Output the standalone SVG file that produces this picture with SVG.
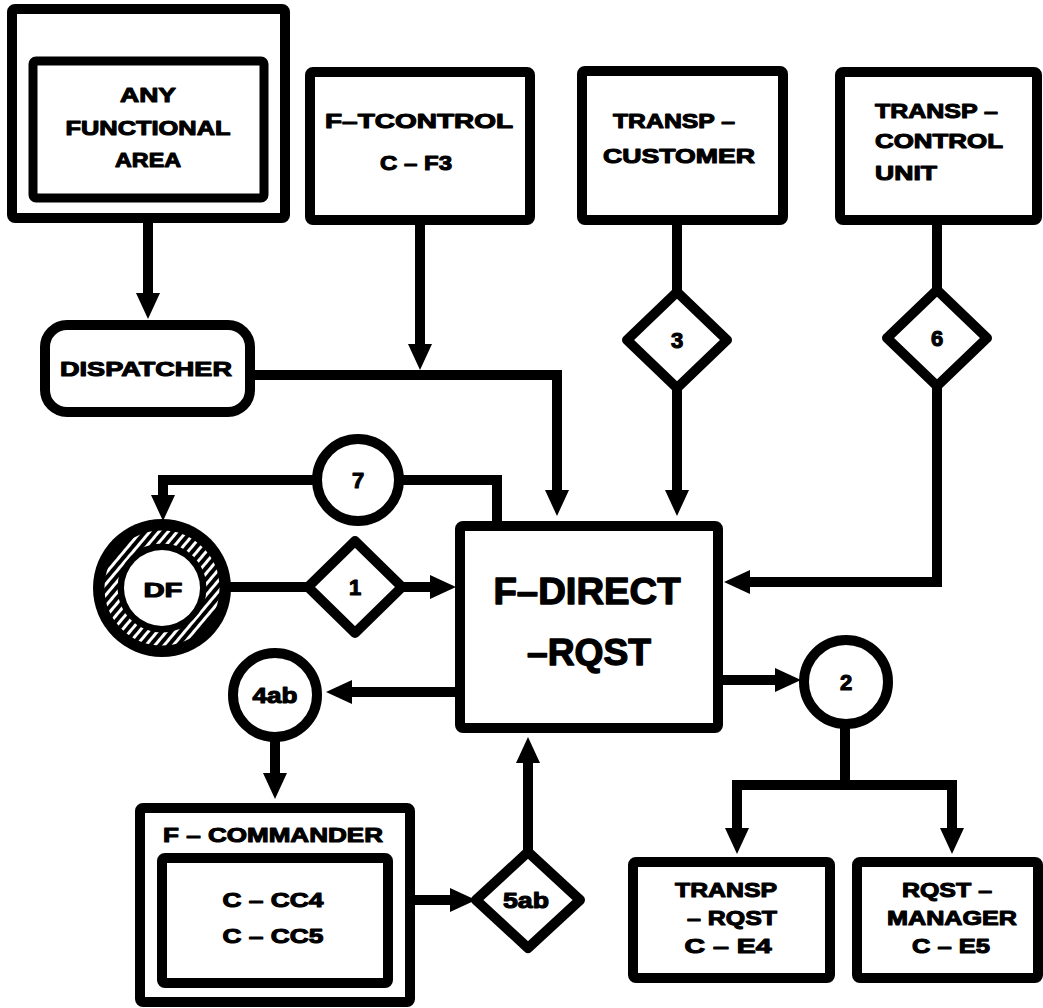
<svg xmlns="http://www.w3.org/2000/svg" width="1043" height="1008" viewBox="0 0 1043 1008">
  <style>
    .box { fill: #fff; stroke: #000; stroke-width: 10; stroke-linejoin: round; }
    .inner { fill: #fff; stroke: #000; stroke-width: 9; stroke-linejoin: round; }
    .shape { fill: #fff; stroke: #000; stroke-width: 10; stroke-linejoin: round; }
    .wire { fill: none; stroke: #000; stroke-width: 10; stroke-linejoin: miter; stroke-linecap: butt; }
    .lbl { font-family: "Liberation Sans", Arial, sans-serif; font-weight: bold; font-size: 21px; fill: #000; stroke: #000; stroke-width: 1.1; stroke-linejoin: round; text-anchor: middle; }
    .left { text-anchor: start; }
    .big { font-size: 36px; stroke-width: 1.3; }
    .num { font-size: 22px; }
  </style>
  <defs>
    <marker id="head" markerUnits="userSpaceOnUse" markerWidth="26" markerHeight="24" refX="0" refY="12" orient="auto" overflow="visible">
      <path d="M-1,0 L25,12 L-1,24 Z" fill="#000"/>
    </marker>
    <pattern id="hatch" patternUnits="userSpaceOnUse" width="7" height="7" patternTransform="rotate(40)">
      <rect x="0" y="0" width="3" height="7" fill="#fff"/>
    </pattern>
  </defs>

  <!-- connectors -->
  <g id="connectors">
    <path class="wire" d="M148,223 V294" marker-end="url(#head)"/>
    <path class="wire" d="M420,225 V345" marker-end="url(#head)"/>
    <path class="wire" d="M255,375 H557 V491" marker-end="url(#head)"/>
    <path class="wire" d="M677,225 V292"/>
    <path class="wire" d="M677,388 V491" marker-end="url(#head)"/>
    <path class="wire" d="M937,225 V290"/>
    <path class="wire" d="M937,386 V582 H749" marker-end="url(#head)"/>
    <path class="wire" d="M497,524 V480 H163 V496" marker-end="url(#head)"/>
    <path class="wire" d="M228,587 H431" marker-end="url(#head)"/>
    <path class="wire" d="M457,692 H351" marker-end="url(#head)"/>
    <path class="wire" d="M275,737 V774" marker-end="url(#head)"/>
    <path class="wire" d="M415,900 H451" marker-end="url(#head)"/>
    <path class="wire" d="M528,852 V762" marker-end="url(#head)"/>
    <path class="wire" d="M721,680 H776" marker-end="url(#head)"/>
    <path class="wire" d="M845,727 V785"/>
    <path class="wire" d="M737,829 V785 H952 V829" marker-end="url(#head)"/>
    <path class="wire" d="M737,785 V829" marker-end="url(#head)"/>
  </g>

  <!-- functional area with nested frame -->
  <g id="any-functional-area">
    <rect class="box" x="12" y="9" width="273" height="209" rx="3"/>
    <rect class="inner" x="33" y="61" width="231" height="137" rx="3"/>
    <text class="lbl" x="148" y="102" textLength="56" lengthAdjust="spacingAndGlyphs">ANY</text>
    <text class="lbl" x="148" y="135" textLength="165" lengthAdjust="spacingAndGlyphs">FUNCTIONAL</text>
    <text class="lbl" x="148" y="167" textLength="66" lengthAdjust="spacingAndGlyphs">AREA</text>
  </g>

  <g id="f-tcontrol">
    <rect class="box" x="310" y="72" width="220" height="148" rx="3"/>
    <text class="lbl" x="419" y="128" textLength="188" lengthAdjust="spacingAndGlyphs">F–TCONTROL</text>
    <text class="lbl" x="416" y="170" textLength="72" lengthAdjust="spacingAndGlyphs">C – F3</text>
  </g>

  <g id="transp-customer">
    <rect class="box" x="582" y="71" width="201" height="149" rx="3"/>
    <text class="lbl" x="674" y="128" textLength="122" lengthAdjust="spacingAndGlyphs">TRANSP –</text>
    <text class="lbl" x="679" y="163" textLength="152" lengthAdjust="spacingAndGlyphs">CUSTOMER</text>
  </g>

  <g id="transp-control-unit">
    <rect class="box" x="840" y="72" width="197" height="148" rx="3"/>
    <text class="lbl left" x="875" y="118" textLength="123" lengthAdjust="spacingAndGlyphs">TRANSP –</text>
    <text class="lbl left" x="875" y="148" textLength="128" lengthAdjust="spacingAndGlyphs">CONTROL</text>
    <text class="lbl left" x="875" y="180" textLength="62" lengthAdjust="spacingAndGlyphs">UNIT</text>
  </g>

  <g id="dispatcher">
    <rect class="box" x="45" y="325" width="205" height="87" rx="22"/>
    <text class="lbl" x="146" y="376" font-size="24" textLength="172" lengthAdjust="spacingAndGlyphs">DISPATCHER</text>
  </g>

  <g id="decision-3">
    <polygon class="shape" points="677,292 727,340 677,388 627,340"/>
    <text class="lbl num" x="677" y="348">3</text>
  </g>

  <g id="decision-6">
    <polygon class="shape" points="937,290 987,338 937,386 887,338"/>
    <text class="lbl num" x="937" y="346">6</text>
  </g>

  <g id="flow-7">
    <circle class="shape" cx="358" cy="480" r="41"/>
    <text class="lbl num" x="358" y="488">7</text>
  </g>

  <!-- data file: black ring with hatched band -->
  <g id="df">
    <circle cx="162" cy="588" r="69" fill="#000"/>
    <circle cx="162" cy="588" r="51" fill="none" stroke="url(#hatch)" stroke-width="13"/>
    <circle cx="162" cy="588" r="38" fill="#fff"/>
    <text class="lbl" x="163" y="597" font-size="24" textLength="39" lengthAdjust="spacingAndGlyphs">DF</text>
  </g>

  <g id="decision-1">
    <polygon class="shape" points="355,541 402,587 355,633 308,587"/>
    <text class="lbl num" x="355" y="595">1</text>
  </g>

  <g id="f-direct-rqst">
    <rect class="box" x="460" y="526" width="258" height="202" rx="3"/>
    <text class="lbl big" x="587" y="604" textLength="187" lengthAdjust="spacingAndGlyphs">F–DIRECT</text>
    <text class="lbl big" x="589" y="665" textLength="124" lengthAdjust="spacingAndGlyphs">–RQST</text>
  </g>

  <g id="flow-4ab">
    <circle class="shape" cx="275" cy="695" r="42"/>
    <text class="lbl num" x="275" y="703" textLength="45" lengthAdjust="spacingAndGlyphs">4ab</text>
  </g>

  <g id="f-commander">
    <rect class="box" x="140" y="808" width="270" height="194" rx="3"/>
    <text class="lbl left" x="163" y="842" font-size="22" textLength="220" lengthAdjust="spacingAndGlyphs">F – COMMANDER</text>
    <rect class="box" x="162" y="858" width="226" height="125" rx="3"/>
    <text class="lbl" x="273" y="907" textLength="101" lengthAdjust="spacingAndGlyphs">C – CC4</text>
    <text class="lbl" x="273" y="943" textLength="101" lengthAdjust="spacingAndGlyphs">C – CC5</text>
  </g>

  <g id="decision-5ab">
    <polygon class="shape" points="528,852 580,900 528,948 476,900"/>
    <text class="lbl num" x="526" y="908" textLength="46" lengthAdjust="spacingAndGlyphs">5ab</text>
  </g>

  <g id="flow-2">
    <circle class="shape" cx="846" cy="682" r="42"/>
    <text class="lbl num" x="846" y="690">2</text>
  </g>

  <g id="transp-rqst">
    <rect class="box" x="633" y="862" width="197" height="116" rx="3"/>
    <text class="lbl" x="726" y="897" textLength="102" lengthAdjust="spacingAndGlyphs">TRANSP</text>
    <text class="lbl" x="732" y="925" textLength="90" lengthAdjust="spacingAndGlyphs">– RQST</text>
    <text class="lbl" x="728" y="953" textLength="87" lengthAdjust="spacingAndGlyphs">C – E4</text>
  </g>

  <g id="rqst-manager">
    <rect class="box" x="857" y="862" width="181" height="116" rx="3"/>
    <text class="lbl" x="947" y="897" textLength="90" lengthAdjust="spacingAndGlyphs">RQST –</text>
    <text class="lbl" x="952" y="925" textLength="130" lengthAdjust="spacingAndGlyphs">MANAGER</text>
    <text class="lbl" x="951" y="953" textLength="78" lengthAdjust="spacingAndGlyphs">C – E5</text>
  </g>
</svg>
